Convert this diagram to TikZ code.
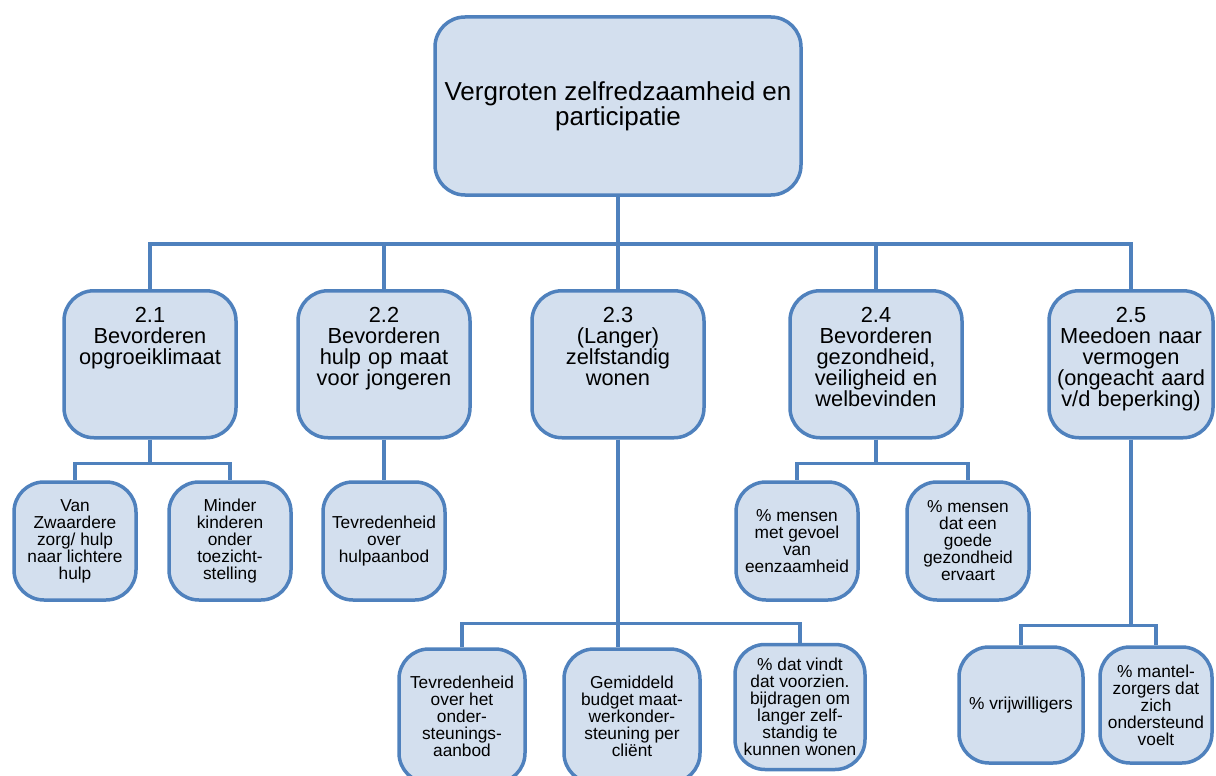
\documentclass[tikz,border=0pt]{standalone}
\usepackage{fontspec}
\setmainfont{Liberation Sans}
\usepackage{tikz}
\definecolor{boxline}{HTML}{4F81BD}
\definecolor{boxfill}{HTML}{D3DFEE}

\begin{document}
\begin{tikzpicture}[x=1pt, y=-1pt,
  box/.style={draw=boxline, fill=boxfill, line width=3.5pt, rounded corners=30pt, inner sep=0pt, align=center},
  mainbox/.style={box, minimum width=366pt, minimum height=178pt, font=\fontsize{26}{22}\selectfont},
  goalbox/.style={box, anchor=north, text width=172pt, text height=32pt, text depth=115pt, font=\fontsize{21.8}{21}\selectfont},
  kpibox/.style={box, minimum width=122pt, minimum height=118pt, font=\fontsize{17.3}{17}\selectfont},
  link/.style={draw=boxline, line width=3.5pt}]

\useasboundingbox (0,0) rectangle (1216,776);

% hoofddoel
\node[mainbox] (top) at (618,106) {Vergroten zelfredzaamheid en\\participatie};

% subdoelen
\node[goalbox] (b21) at (150,289) {2.1\\Bevorderen\\opgroeiklimaat};
\node[goalbox] (b22) at (384,289) {2.2\\Bevorderen\\hulp op maat\\voor jongeren};
\node[goalbox] (b23) at (618,289) {2.3\\(Langer)\\zelfstandig\\wonen};
\node[goalbox] (b24) at (876,289) {2.4\\Bevorderen\\gezondheid,\\veiligheid en\\welbevinden};
\node[goalbox, text width=164pt] (b25) at (1131,289) {2.5\\Meedoen naar\\vermogen\\(ongeacht aard\\v/d beperking)};

% indicatoren
\node[kpibox] (c11) at (75,541) {Van\\Zwaardere\\zorg/ hulp\\naar lichtere\\hulp};
\node[kpibox] (c12) at (230,541) {Minder\\kinderen\\onder\\toezicht-\\stelling};
\node[kpibox] (c21) at (384,541) {Tevredenheid\\over\\hulpaanbod};
\node[kpibox, minimum width=126pt, minimum height=134pt] (c31) at (462,716) {Tevredenheid\\over het\\onder-\\steunings-\\aanbod};
\node[kpibox, minimum width=136pt, minimum height=134pt] (c32) at (632,716) {Gemiddeld\\budget maat-\\werkonder-\\steuning per\\cliënt};
\node[kpibox, minimum width=130pt, minimum height=125pt] (c33) at (800,707) {\% dat vindt\\dat voorzien.\\bijdragen om\\langer zelf-\\standig te\\kunnen wonen};
\node[kpibox] (c41) at (797,541) {\% mensen\\met gevoel\\van\\eenzaamheid};
\node[kpibox] (c42) at (968,541) {\% mensen\\dat een\\goede\\gezondheid\\ervaart};
\node[kpibox, minimum width=124pt, minimum height=116pt] (c51) at (1021,705) {\% vrijwilligers};
\node[kpibox, minimum width=112pt, minimum height=116pt] (c52) at (1156,705) {\% mantel-\\zorgers dat\\zich\\ondersteund\\voelt};

\foreach \i/\j/\d in {top/b21/47, top/b22/47, top/b23/47, top/b24/47, top/b25/47, b21/c11/24, b21/c12/24, b22/c21/24, b23/c31/184, b23/c33/184, b24/c41/24, b24/c42/24, b25/c51/186, b25/c52/186}
\draw[link] (\i.south) -- ++(0,\d) -| (\j.north);
\draw[link] (b23.south) -- (b23.south |- c32.north);

\end{tikzpicture}
\end{document}
